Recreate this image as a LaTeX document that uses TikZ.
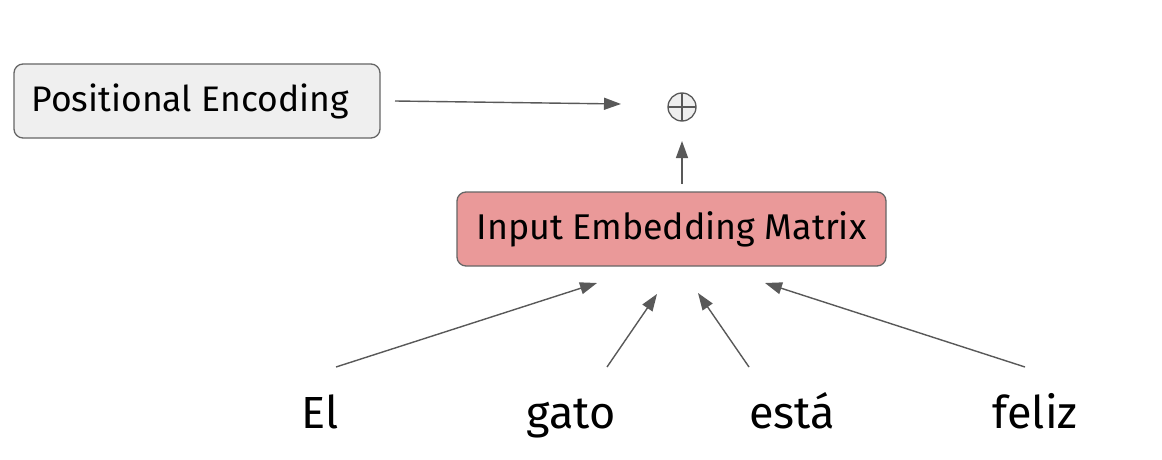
\documentclass[tikz,border=0pt]{standalone}
\usepackage{fontspec}
\setmainfont{Fira Sans}
\usetikzlibrary{arrows.meta}
\definecolor{edgegray}{HTML}{595959}
\definecolor{boxgray}{HTML}{EFEFEF}
\definecolor{boxred}{HTML}{EA9999}
\definecolor{boxline}{HTML}{666666}
\tikzset{
  conn/.style={draw=edgegray, line width=1.4pt, -{Triangle[length=17pt,width=12pt]}, fill=edgegray},
  boxnode/.style={draw=boxline, line width=1.3pt, rounded corners=9pt, inner sep=0pt},
  word/.style={anchor=base, inner sep=0pt, font=\fontsize{45}{50}\selectfont},
}
\begin{document}
\begin{tikzpicture}[x=1pt,y=-1pt]
\useasboundingbox (0,0) rectangle (1162,460);
\node[boxnode, fill=boxgray, minimum width=366pt, minimum height=74pt, font=\fontsize{35.5}{40}\selectfont] (pe) at (197,101) {Positional Encoding\hspace*{14pt}};
\node[boxnode, fill=boxred, minimum width=429pt, minimum height=74pt, font=\fontsize{35.8}{40}\selectfont] (iem) at (671.5,229) {\raisebox{-2pt}{Input Embedding Matrix}};
\draw[draw=edgegray, fill=boxgray, line width=1.3pt] (682,107) circle (14pt);
\node[circle, minimum size=28pt, inner sep=0pt] (plus) at (682,107) {};
\draw[edgegray, line width=1.3pt] (plus.north) -- (plus.south) (plus.west) -- (plus.east);
\node[word] (el) at (320,428) {El};
\node[word] (gato) at (571,428) {gato};
\node[word] (esta) at (792,428) {está};
\node[word] (feliz) at (1035,428) {feliz};
\coordinate (peout) at (395,101);
\coordinate (plusin) at (621,104);
\coordinate (iemout) at (682,184);
\coordinate (plusbot) at (682,141);
\coordinate (elt) at (336,367);
\coordinate (elh) at (597,283);
\coordinate (gatot) at (607,367);
\coordinate (gatoh) at (657,294);
\coordinate (estat) at (749,367);
\coordinate (estah) at (698,293);
\coordinate (felizt) at (1025,367);
\coordinate (felizh) at (765,283);
\draw[conn] (peout) -- (plusin);
\draw[conn] (iemout) -- (plusbot);
\draw[conn] (elt) -- (elh);
\draw[conn] (gatot) -- (gatoh);
\draw[conn] (estat) -- (estah);
\draw[conn] (felizt) -- (felizh);
\end{tikzpicture}
\end{document}
